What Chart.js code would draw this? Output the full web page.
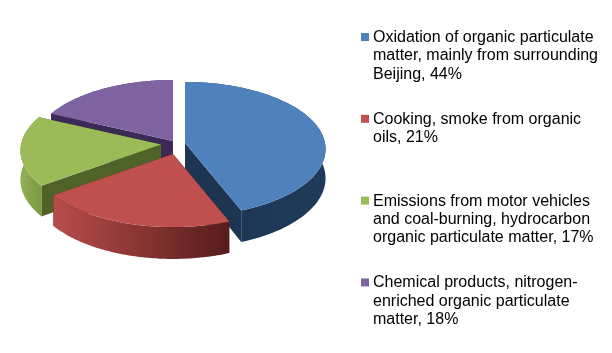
<!DOCTYPE html>
<html lang="en">
<head>
  <meta charset="UTF-8">
  <title>Organic particulate matter sources</title>
  <script src="https://cdn.jsdelivr.net/npm/chart.js"></script>
  <style>
    html, body { margin: 0; padding: 0; background: #fff; }
    canvas { display: block; }
  </style>
</head>
<body>
<canvas id="pieChart" width="612" height="353"></canvas>

<script>
  // data
  const categories = [
    ['Oxidation of organic particulate', 'matter, mainly from surrounding', 'Beijing, 44%'],
    ['Cooking, smoke from organic', 'oils, 21%'],
    ['Emissions from motor vehicles', 'and coal-burning, hydrocarbon', 'organic particulate matter, 17%'],
    ['Chemical products, nitrogen-', 'enriched organic particulate', 'matter, 18%']
  ];
  const shares = [44, 21, 17, 18];

  // colours: top face, cut faces, outer wall gradient
  const topColors = ['#4f81bd', '#c0504d', '#9bbb59', '#8064a2'];
  const cutColors = ['#1d3552', '#571c1c', '#4f6228', '#3a2a55'];
  const wallColors = [['#1d3552', '#1f3a5a'], ['#b84d4a', '#571c1c'], ['#93b155', '#78973f'], ['#3a2a55', '#3a2a55']];

  // fake 3D look
  const squash = 0.475;      // vertical radius / horizontal radius
  const perspective = 0.09;
  const depth = 29;
  const explode = [[12, -3], [0, 8], [-12, -1.5], [0, -5]];
  const drawOrder = [3, 0, 2, 1]; // back to front

  function project(arc, i, angle, r, z) {
    const v = r * Math.sin(angle);
    const w = 1 - perspective * v;
    return {
      x: arc.x + explode[i][0] + arc.outerRadius * r * Math.cos(angle) / w,
      y: arc.y + explode[i][1] + arc.outerRadius * squash * v / w + z * depth / w
    };
  }

  function tracePoints(ctx, pts, fill) {
    ctx.beginPath();
    pts.forEach((p, n) => n ? ctx.lineTo(p.x, p.y) : ctx.moveTo(p.x, p.y));
    ctx.closePath();
    ctx.fillStyle = fill;
    ctx.fill();
  }

  function rimPoints(arc, i, z) {
    const pts = [];
    const steps = 80;
    for (let s = 0; s <= steps; s++) {
      const a = arc.startAngle + (arc.endAngle - arc.startAngle) * s / steps;
      pts.push(project(arc, i, a, 1, z));
    }
    return pts;
  }

  // draws the pie arcs laid flat with a side wall
  const pie3d = {
    id: 'pie3d',
    beforeDatasetsDraw(chart) {
      const ctx = chart.ctx;
      const arcs = chart.getDatasetMeta(0).data;
      drawOrder.forEach(i => {
        const arc = arcs[i];
        const rimTop = rimPoints(arc, i, 0);
        const rimBottom = rimPoints(arc, i, 1);
        const apexTop = project(arc, i, 0, 0, 0);
        const apexBottom = project(arc, i, 0, 0, 1);

        // cut faces
        [[rimTop[0], rimBottom[0]], [rimTop[rimTop.length - 1], rimBottom[rimBottom.length - 1]]].forEach(edge => {
          tracePoints(ctx, [apexTop, edge[0], edge[1], apexBottom], cutColors[i]);
        });

        // outer wall
        const xs = rimTop.map(p => p.x);
        const grad = ctx.createLinearGradient(Math.min(...xs), 0, Math.max(...xs), 0);
        grad.addColorStop(0, wallColors[i][0]);
        grad.addColorStop(1, wallColors[i][1]);
        tracePoints(ctx, rimTop.concat(rimBottom.slice().reverse()), grad);

        // top face
        tracePoints(ctx, [apexTop].concat(rimTop), topColors[i]);
      });
      return false;
    },
    afterDraw(chart) {
      const ctx = chart.ctx;
      ctx.save();
      ctx.font = '16px "Liberation Sans"';
      ctx.textBaseline = 'alphabetic';
      categories.forEach((lines, i) => {
        const top = 42 + i * 81.8;
        ctx.fillStyle = topColors[i];
        ctx.fillRect(361, top - 9, 8, 8);
        ctx.fillStyle = '#000';
        lines.forEach((line, n) => ctx.fillText(line, 373, top + n * 18.4));
      });
      ctx.restore();
    }
  };

  const ctx = document.getElementById('pieChart').getContext('2d');
  const pieChart = new Chart(ctx, {
    type: 'pie',
    data: {
      labels: categories,
      datasets: [{
        data: shares,
        backgroundColor: topColors,
        borderWidth: 0
      }]
    },
    options: {
      responsive: false,
      animation: false,
      layout: { padding: { left: 33, right: 299, top: 6, bottom: 67 } },
      plugins: {
        legend: { display: false },
        tooltip: { enabled: false }
      }
    },
    plugins: [pie3d]
  });
</script>
</body>
</html>
